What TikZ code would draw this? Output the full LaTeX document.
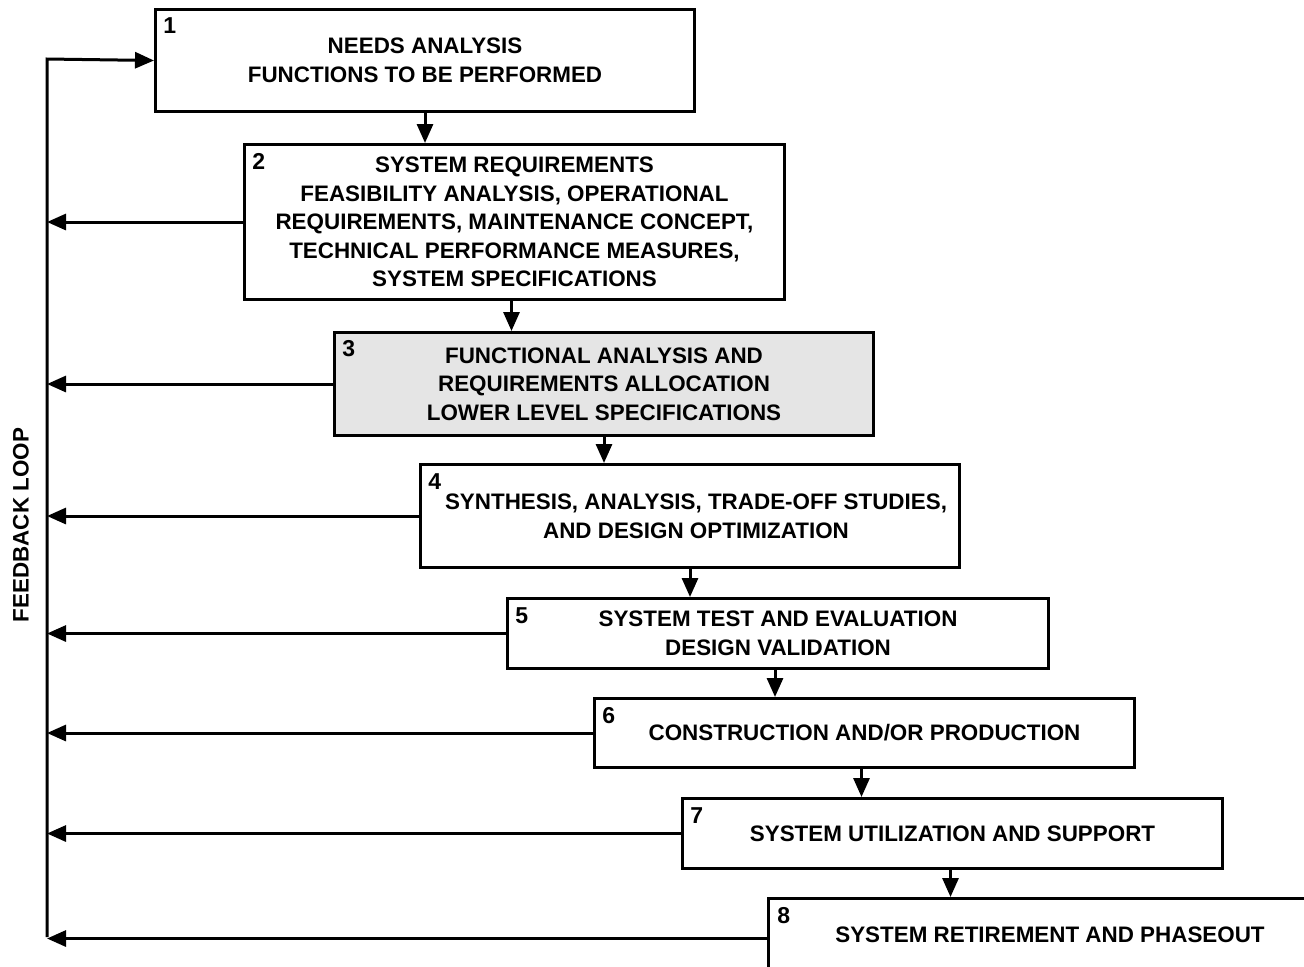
\documentclass[tikz,border=0pt]{standalone}
\usepackage{fontspec}
\setmainfont{Liberation Sans}
\usetikzlibrary{arrows.meta}
\definecolor{boxgray}{RGB}{229,229,229}
\begin{document}
\begin{tikzpicture}[x=0.5pt,y=-0.5pt,
  box/.style={draw, line width=1.5pt, anchor=north west, inner sep=0pt, align=center,
    font=\bfseries\fontsize{11.2}{14.3}\selectfont},
  num/.style={anchor=north west, inner sep=0pt, font=\bfseries\fontsize{11.5}{12}\selectfont},
  conn/.style={line width=1.5pt, line join=miter, -{Triangle[length=9.5pt,width=8pt]}},
  lbl/.style={font=\bfseries\fontsize{11.2}{14.3}\selectfont, inner sep=0pt}
  ]
\useasboundingbox (0,0) rectangle (1304,966);
\clip (0,0) rectangle (1304,966);
\fill[white] (0,0) rectangle (1304,966);

\node[box, minimum width=269.5pt, minimum height=51pt] (b1) at (154,8)
  {NEEDS ANALYSIS\\FUNCTIONS TO BE PERFORMED};
\node[box, minimum width=270pt, minimum height=77.5pt] (b2) at (243,143)
  {SYSTEM REQUIREMENTS\\FEASIBILITY ANALYSIS, OPERATIONAL\\REQUIREMENTS, MAINTENANCE CONCEPT,\\TECHNICAL PERFORMANCE MEASURES,\\SYSTEM SPECIFICATIONS};
\node[box, fill=boxgray, minimum width=269.5pt, minimum height=51.5pt] (b3) at (333,331)
  {FUNCTIONAL ANALYSIS AND\\REQUIREMENTS ALLOCATION\\LOWER LEVEL SPECIFICATIONS};
\node[box, minimum width=269.5pt, minimum height=51.5pt] (b4) at (419,463)
  {\hspace*{6pt}SYNTHESIS, ANALYSIS, TRADE-OFF STUDIES,\\\hspace*{6pt}AND DESIGN OPTIMIZATION};
\node[box, minimum width=270.5pt, minimum height=35pt] (b5) at (506,597)
  {SYSTEM TEST AND EVALUATION\\DESIGN VALIDATION};
\node[box, minimum width=270pt, minimum height=34.5pt] (b6) at (593,697)
  {CONSTRUCTION AND/OR PRODUCTION};
\node[box, minimum width=270pt, minimum height=35pt] (b7) at (681,797)
  {SYSTEM UTILIZATION AND SUPPORT};
\node[box, minimum width=281.5pt, minimum height=40pt] (b8) at (767,897)
  {\raisebox{3.5pt}{SYSTEM RETIREMENT AND PHASEOUT}};

\node[num] (n1) at ([xshift=4.5pt,yshift=-4.5pt]b1.north west) {1};
\node[num] (n2) at ([xshift=4.5pt,yshift=-5pt]b2.north west) {2};
\node[num] (n3) at ([xshift=4.5pt,yshift=-4.5pt]b3.north west) {3};
\node[num] (n4) at ([xshift=4.5pt,yshift=-5pt]b4.north west) {4};
\node[num] (n5) at ([xshift=4.5pt,yshift=-5pt]b5.north west) {5};
\node[num] (n6) at ([xshift=4.5pt,yshift=-5pt]b6.north west) {6};
\node[num] (n7) at ([xshift=4.5pt,yshift=-5pt]b7.north west) {7};
\node[num] (n8) at ([xshift=5pt,yshift=-5pt]b8.north west) {8};

% downward flow
\draw[conn] (b1.south) -- (b1.south |- b2.north);
\draw[conn] ([xshift=-1.5pt]b2.south) -- ([xshift=-1.5pt]b2.south |- b3.north);
\draw[conn] (b3.south) -- (b3.south |- b4.north);
\draw[conn] (b4.south) -- (b4.south |- b5.north);
\draw[conn] ([xshift=-1.5pt]b5.south) -- ([xshift=-1.5pt]b5.south |- b6.north);
\draw[conn] ([xshift=-1.5pt]b6.south) -- ([xshift=-1.5pt]b6.south |- b7.north);
\draw[conn] ([xshift=-1pt]b7.south) -- ([xshift=-1pt]b7.south |- b8.north);

% feedback loop
\coordinate (fbtop) at (47,59);
\coordinate (fbbot) at (47,937);
\draw[conn] (fbbot) -- (fbtop) -- (b1.west);
\draw[conn] (b2.west) -- (b2.west -| fbtop);
\draw[conn] (b3.west) -- (b3.west -| fbtop);
\draw[conn] (b4.west) -- (b4.west -| fbtop);
\draw[conn] (b5.west) -- (b5.west -| fbtop);
\draw[conn] (b6.west) -- (b6.west -| fbtop);
\draw[conn] (b7.west) -- (b7.west -| fbtop);
\draw[conn] (b8.west) -- (b8.west -| fbtop);

\node[lbl, rotate=90] (fbl) at (21,525) {FEEDBACK LOOP};
\end{tikzpicture}
\end{document}
